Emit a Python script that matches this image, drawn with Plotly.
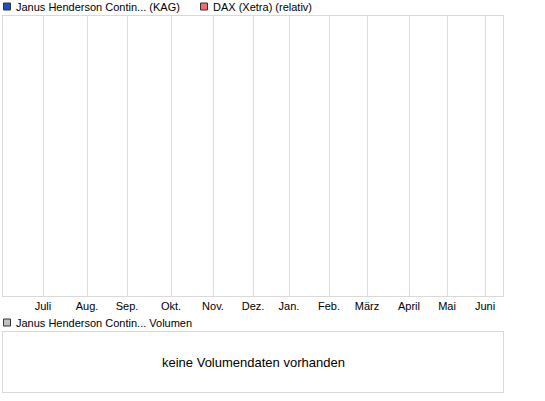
import plotly.graph_objects as go

W, H = 545, 401

# Data
month_labels = ["Juli", "Aug.", "Sep.", "Okt.", "Nov.", "Dez.", "Jan.", "Feb.", "März", "April", "Mai", "Juni"]
month_pos = [20, 42, 62, 84, 105, 125, 143, 163, 182, 203, 222, 241]  # trading-day index of month start
x_range = [0, 250]
series_names = ["Janus Henderson Contin... (KAG)", "DAX (Xetra) (relativ)"]
series_colors = ["#1f4fbf", "#f26d6d"]
volume_name = "Janus Henderson Contin... Volumen"
volume_color = "#c0c0c0"
no_volume_text = "keine Volumendaten vorhanden"

FONT = "Liberation Sans, Arial, sans-serif"
LINE = "#d9d9d9"

def px_x(p):
    return p / W

def px_y(p):
    return 1 - p / H

fig = go.Figure()
# empty series (no data available)
for name, col in zip(series_names, series_colors):
    fig.add_trace(go.Scatter(x=[], y=[], name=name, mode="lines",
                             line=dict(color=col), showlegend=False,
                             xaxis="x", yaxis="y"))
fig.add_trace(go.Bar(x=[], y=[], name=volume_name, marker_color=volume_color,
                     showlegend=False, xaxis="x2", yaxis="y2"))

fig.update_layout(
    width=W, height=H,
    margin=dict(l=0, r=0, t=0, b=0),
    paper_bgcolor="white", plot_bgcolor="white",
    font=dict(family=FONT, size=11, color="#000000"),
    xaxis=dict(domain=[px_x(3), px_x(503)], range=x_range,
               tickvals=month_pos, ticktext=month_labels,
               showgrid=True, gridcolor="#dedede", gridwidth=1,
               showline=True, mirror=True, linecolor=LINE, linewidth=1,
               ticks="", zeroline=False, fixedrange=True,
               tickfont=dict(size=11, family=FONT, color="#000")),
    yaxis=dict(domain=[px_y(296), px_y(16)], range=[0, 1],
               showgrid=False, showticklabels=False, zeroline=False,
               showline=True, mirror=True, linecolor=LINE, linewidth=1,
               ticks="", fixedrange=True),
    xaxis2=dict(domain=[px_x(3), px_x(503)], range=x_range, anchor="y2",
                showgrid=False, showticklabels=False, zeroline=False,
                showline=True, mirror=True, linecolor=LINE, linewidth=1,
                ticks="", fixedrange=True),
    yaxis2=dict(domain=[px_y(392), px_y(332)], range=[0, 1], anchor="x2",
                showgrid=False, showticklabels=False, zeroline=False,
                showline=True, mirror=True, linecolor=LINE, linewidth=1,
                ticks="", fixedrange=True),
)

# custom legends
legend_items = [
    (series_names[0], series_colors[0], 3, 6.5),
    (series_names[1], series_colors[1], 200, 6.5),
    (volume_name, volume_color, 3, 322.5),
]
shapes = []
annotations = []
for name, col, x0, yc in legend_items:
    shapes.append(dict(type="rect", xref="paper", yref="paper",
                       x0=px_x(x0 + 0.5), x1=px_x(x0 + 7.5),
                       y0=px_y(yc - 3.5), y1=px_y(yc + 3.5),
                       fillcolor=col, line=dict(color="#333333", width=1)))
    annotations.append(dict(text=name, xref="paper", yref="paper",
                            x=px_x(x0 + 11), y=px_y(yc), xanchor="left", yanchor="middle",
                            showarrow=False, font=dict(size=11, family=FONT, color="#000")))

annotations.append(dict(text=no_volume_text, xref="x2 domain", yref="y2 domain",
                        x=0.5, y=0.5, xanchor="center", yanchor="middle",
                        showarrow=False, font=dict(size=13, family=FONT, color="#000")))

fig.update_layout(shapes=shapes, annotations=annotations)

fig.write_html("out.html", config={"displayModeBar": False},
               post_script="document.body.style.margin='0';document.body.style.padding='0';")
